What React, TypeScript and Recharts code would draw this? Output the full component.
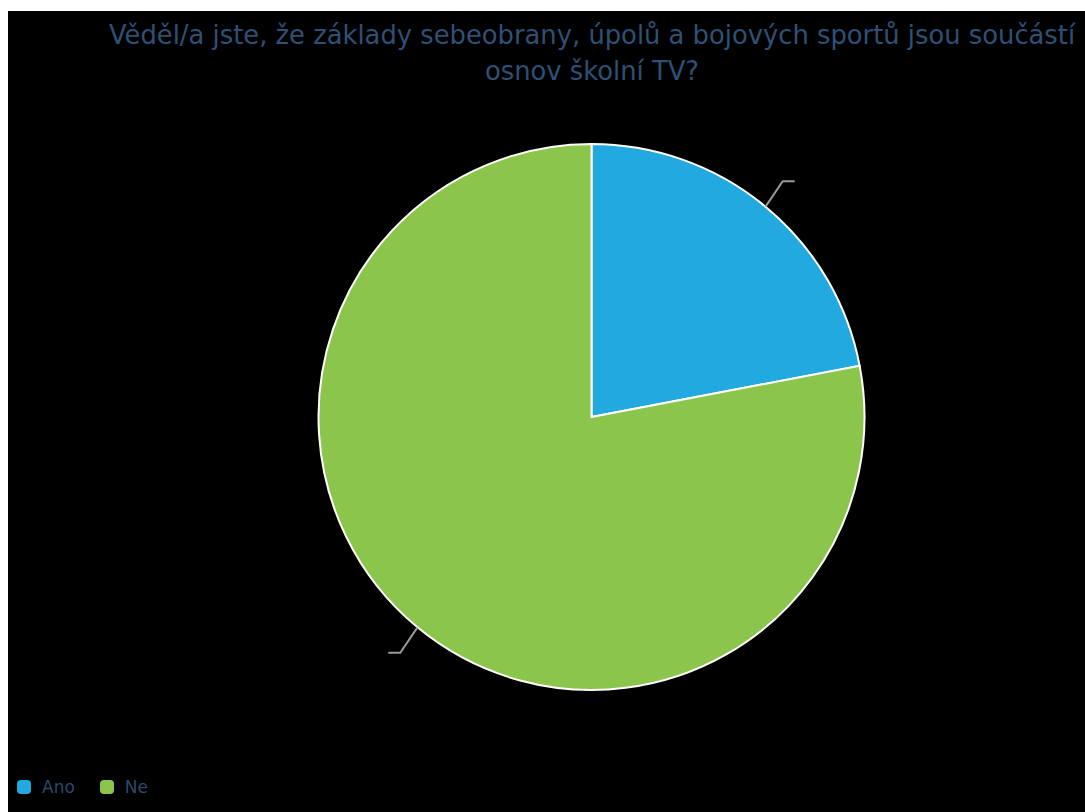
import React from 'react';
import { PieChart, Pie, Cell, Legend } from 'recharts';

const categories = ['Ano', 'Ne'];
const values = [22, 78];
const colors = ['#22a9e0', '#8cc54b'];
const titleLines = [
  'Věděl/a jste, že základy sebeobrany, úpolů a bojových sportů jsou součástí',
  'osnov školní TV?',
];

const data = categories.map((name, i) => ({ name, value: values[i] }));

const RAD = Math.PI / 180;

// leader line: steep diagonal out of the slice, then a short horizontal tail
const renderLabelLine = (props: any) => {
  const { cx, cy, outerRadius, midAngle } = props;
  const cos = Math.cos(-midAngle * RAD);
  const sin = Math.sin(-midAngle * RAD);
  const sx = cx + outerRadius * cos;
  const sy = cy + outerRadius * sin;
  const mx = sx + cos * 27;
  const my = sy + sin * 33;
  const ex = mx + (cos >= 0 ? 12 : -12);
  return (
    <path
      d={`M${sx},${sy}L${mx},${my}L${ex},${my}`}
      stroke="#9a9a9a"
      strokeWidth={2}
      fill="none"
    />
  );
};

const LegendContent = () => (
  <div style={{ display: 'flex', alignItems: 'center', fontFamily: 'DejaVu Sans', fontSize: 17, color: '#2c4a6c' }}>
    {categories.map((c, i) => (
      <div key={c} style={{ display: 'flex', alignItems: 'center', marginRight: 25 }}>
        <div style={{ width: 14, height: 14, borderRadius: 4, background: colors[i], marginRight: 11 }}></div>
        <span>{c}</span>
      </div>
    ))}
  </div>
);

export default function App() {
  return (
    <div style={{ position: 'absolute', left: 8, top: 11, width: 1077, height: 801, background: '#000', overflow: 'hidden' }}>
      <PieChart width={1077} height={801}>
        <text x={584} y={33} textAnchor="middle" fontFamily="DejaVu Sans" fontSize={25.8} fill="#2f5075">
          {titleLines[0]}
        </text>
        <text x={584} y={69} textAnchor="middle" fontFamily="DejaVu Sans" fontSize={25.8} fill="#2f5075">
          {titleLines[1]}
        </text>
        <Pie
          data={data}
          dataKey="value"
          nameKey="name"
          cx={578.5}
          cy={401}
          outerRadius={273}
          startAngle={90}
          endAngle={-270}
          stroke="#ffffff"
          strokeWidth={2}
          label={() => null}
          labelLine={renderLabelLine}
          isAnimationActive={false}
        >
          {data.map((d, i) => (
            <Cell key={d.name} fill={colors[i]} />
          ))}
        </Pie>
        <Legend
          content={<LegendContent />}
          wrapperStyle={{ position: 'absolute', left: 9, top: 766, width: 300, height: 20 }}
        />
      </PieChart>
    </div>
  );
}
